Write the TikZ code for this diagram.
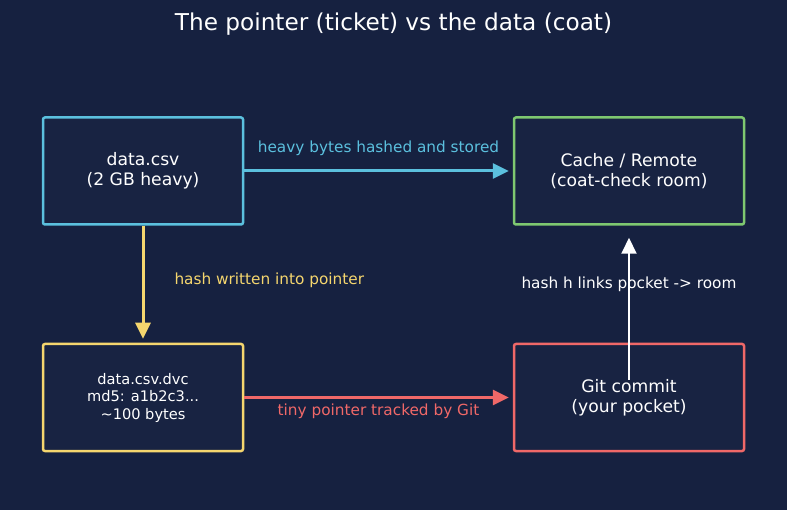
\documentclass[tikz,border=0pt]{standalone}
\usepackage{fontspec}
\setmainfont{DejaVu Sans}
\usetikzlibrary{arrows.meta,positioning}
\definecolor{bgnavy}{RGB}{22,33,64}
\definecolor{boxfill}{RGB}{24,35,66}
\definecolor{cyanc}{RGB}{91,192,222}
\definecolor{greenc}{RGB}{126,200,112}
\definecolor{yellowc}{RGB}{245,214,110}
\definecolor{redc}{RGB}{240,104,104}
\begin{document}
\begin{tikzpicture}[x=1pt, y=-1pt, >={Triangle[length=16pt,width=15pt]}, box/.style={draw, rounded corners=2pt, line width=2.5pt, fill=boxfill, text=white, align=center, minimum height=107pt, font=\fontsize{17.2}{20}\selectfont}, flow/.style={->, line width=3pt, shorten >=4pt}, lbl/.style={font=\fontsize{15.3}{18}\selectfont}]
\fill[bgnavy] (0,0) rectangle (787,510);
\useasboundingbox (0,0) rectangle (787,510);
\node[text=white, font=\fontsize{23.2}{27}\selectfont] (title) at (393.5,24) {The pointer (ticket) vs the data (coat)};
\node[box, draw=cyanc, minimum width=200pt] (csv) at (143,171) {data.csv\\(2 GB heavy)};
\node[box, draw=greenc, minimum width=230pt] (cache) at (629,171) {Cache / Remote\\(coat-check room)};
\node[box, draw=yellowc, minimum width=200pt, font=\fontsize{14.6}{17.5}\selectfont] (dvc) at (143,397.5) {data.csv.dvc\\md5: a1b2c3...\\\textasciitilde100 bytes};
\node[box, draw=redc, minimum width=230pt] (git) at (629,397.5) {Git commit\\(your pocket)};
\coordinate (pocket) at (629,380);
\draw[flow, cyanc] (csv) -- (cache);
\node[lbl, text=cyanc] (heavy) at (378.5,148) {heavy bytes hashed and stored};
\draw[flow, yellowc] (csv) -- (dvc);
\node[lbl, text=yellowc, anchor=west] (written) at (171,280) {hash written into pointer};
\draw[flow, redc] (dvc) -- (git);
\node[lbl, text=redc] (tiny) at (378.5,411) {tiny pointer tracked by Git};
\node[lbl, text=white] (links) at (629,284) {hash h links pocket -> room};
\draw[->, white, line width=2pt, shorten >=12pt] (pocket) -- (cache.south);
\end{tikzpicture}
\end{document}
